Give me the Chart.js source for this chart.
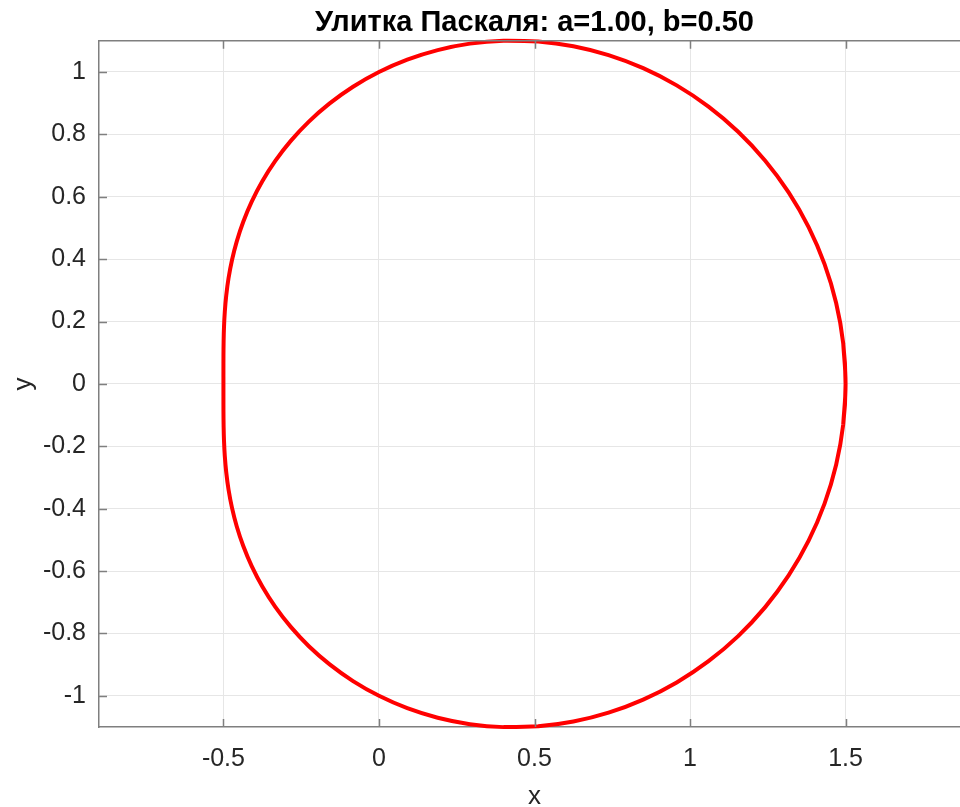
<!DOCTYPE html>
<html>
<head>
<meta charset="utf-8">
<script src="https://cdn.jsdelivr.net/npm/chart.js@4/dist/chart.umd.min.js"></script>
<style>
html,body{margin:0;padding:0;background:#fff;overflow:hidden;width:960px;height:807px;}
#wrap{position:absolute;left:0;top:0;width:980px;height:807px;}
</style>
</head>
<body>
<div id="wrap"><canvas id="c" width="980" height="807"></canvas></div>
<script>
// Curve points (Pascal's limaçon, a=1.00, b=0.50).
// The loop starts slightly before its first point and ends slightly after,
// so the closing join is smooth.
const curveX = [1.49240, 1.5, 1.49240, 1.46970, 1.43243, 1.38120, 1.31701, 1.24100, 1.15466, 1.05940, 0.95711, 0.84940,
  0.73807, 0.62500, 0.51192, 0.40050, 0.29231, 0.18870, 0.09096, 0, -0.08336, -0.15850,
  -0.22533, -0.28350, -0.33331, -0.37500, -0.40908, -0.43620, -0.45711, -0.47260, -0.48364, -0.49100,
  -0.49561, -0.49820, -0.49942, -0.49990, -0.49999, -0.5,
  -0.49999, -0.49990, -0.49942, -0.49820, -0.49561, -0.49100, -0.48364, -0.47260, -0.45711, -0.43620,
  -0.40908, -0.37500, -0.33331, -0.28350, -0.22533, -0.15850, -0.08336, 0, 0.09096, 0.18870,
  0.29231, 0.40050, 0.51192, 0.62500, 0.73807, 0.84940, 0.95711, 1.05940, 1.15466, 1.24100,
  1.31701, 1.38120, 1.43243, 1.46970, 1.49240, 1.5, 1.49240];
const curveY = [-0.13057, 0, 0.13057, 0.25910, 0.38382, 0.50270, 0.61413, 0.71650, 0.80851, 0.88900, 0.95711, 1.01220,
  1.05407, 1.08250, 1.09782, 1.10040, 1.09093, 1.07030, 1.03960, 1, 0.95278, 0.89930,
  0.84093, 0.77900, 0.71480, 0.64950, 0.58423, 0.51980, 0.45711, 0.39660, 0.33866, 0.28350,
  0.23111, 0.18130, 0.13382, 0.08810, 0.04375, 0,
  -0.04375, -0.08810, -0.13382, -0.18130, -0.23111, -0.28350, -0.33866, -0.39660, -0.45711, -0.51980,
  -0.58423, -0.64950, -0.71480, -0.77900, -0.84093, -0.89930, -0.95278, -1, -1.03960, -1.07030,
  -1.09093, -1.10040, -1.09782, -1.08250, -1.05407, -1.01220, -0.95711, -0.88900, -0.80851, -0.71650,
  -0.61413, -0.50270, -0.38382, -0.25910, -0.13057, 0, 0.13057];
const xTicks = [-0.5, 0, 0.5, 1, 1.5];
const xTickLabels = ['-0.5', '0', '0.5', '1', '1.5'];
const yTicks = [-1, -0.8, -0.6, -0.4, -0.2, 0, 0.2, 0.4, 0.6, 0.8, 1];
const yTickLabels = ['-1', '-0.8', '-0.6', '-0.4', '-0.2', '0', '0.2', '0.4', '0.6', '0.8', '1'];
const titleText = 'Улитка Паскаля: a=1.00, b=0.50';

const FONT = "'Liberation Sans', Arial, sans-serif";
const AXIS = '#7f7f7f';
const TXT = '#262626';

const points = curveX.map((x, i) => ({x: x, y: curveY[i]}));

const innerTicks = {
  id: 'innerTicks',
  afterDraw(chart) {
    const ctx = chart.ctx, a = chart.chartArea;
    const xs = chart.scales.x, ys = chart.scales.y;
    ctx.save();
    ctx.strokeStyle = AXIS;
    ctx.lineWidth = 1.5;
    ctx.beginPath();
    ctx.moveTo(a.left, a.top); ctx.lineTo(a.right, a.top); ctx.lineTo(a.right, a.bottom);
    xTicks.forEach(v => {
      const p = Math.round(xs.getPixelForValue(v)) + 0.5;
      ctx.moveTo(p, a.bottom); ctx.lineTo(p, a.bottom - 8);
      ctx.moveTo(p, a.top); ctx.lineTo(p, a.top + 8);
    });
    yTicks.forEach(v => {
      const p = Math.round(ys.getPixelForValue(v)) + 0.5;
      ctx.moveTo(a.left, p); ctx.lineTo(a.left + 8, p);
      ctx.moveTo(a.right, p); ctx.lineTo(a.right - 8, p);
    });
    ctx.stroke();
    ctx.restore();
  }
};

new Chart(document.getElementById('c'), {
  type: 'scatter',
  data: {
    datasets: [{
      data: points,
      showLine: true,
      borderColor: '#ff0000',
      backgroundColor: '#ff0000',
      borderWidth: 4,
      pointRadius: 0,
      tension: 0.4,
      clip: false
    }]
  },
  plugins: [innerTicks],
  options: {
    responsive: false,
    animation: false,
    layout: {padding: {left: 0, right: 10, top: 0, bottom: 0}},
    plugins: {
      legend: {display: false},
      tooltip: {enabled: false},
      title: {
        display: true,
        text: titleText,
        fullSize: false,
        color: '#000',
        font: {family: FONT, size: 29, weight: 'bold', lineHeight: 1.2},
        padding: {top: 6, bottom: 0}
      }
    },
    scales: {
      x: {
        type: 'linear',
        min: -0.9, max: 1.9,
        afterBuildTicks: s => { s.ticks = xTicks.map(v => ({value: v})); },
        afterFit: s => { s.height = 80; },
        grid: {color: '#e6e6e6', lineWidth: 1, drawTicks: false},
        border: {color: AXIS, width: 1.5},
        ticks: {
          color: TXT, padding: 17,
          font: {family: FONT, size: 25},
          callback: (v) => xTickLabels[xTicks.indexOf(v)],
          maxRotation: 0, autoSkip: false
        },
        title: {display: true, text: 'x', color: TXT, font: {family: FONT, size: 26, lineHeight: 0.8}, padding: {top: 0, bottom: 0}}
      },
      y: {
        type: 'linear',
        min: -1.1, max: 1.1,
        afterBuildTicks: s => { s.ticks = yTicks.map(v => ({value: v})); },
        afterFit: s => { s.width = 99; },
        grid: {color: '#e6e6e6', lineWidth: 1, drawTicks: false},
        border: {color: AXIS, width: 1.5},
        ticks: {
          color: TXT, padding: 13,
          font: {family: FONT, size: 25},
          callback: (v) => yTickLabels[yTicks.indexOf(v)],
          autoSkip: false
        },
        title: {display: true, text: 'y', color: TXT, font: {family: FONT, size: 26, lineHeight: 1}, padding: {top: 11, bottom: 0}}
      }
    }
  }
});
</script>
</body>
</html>
